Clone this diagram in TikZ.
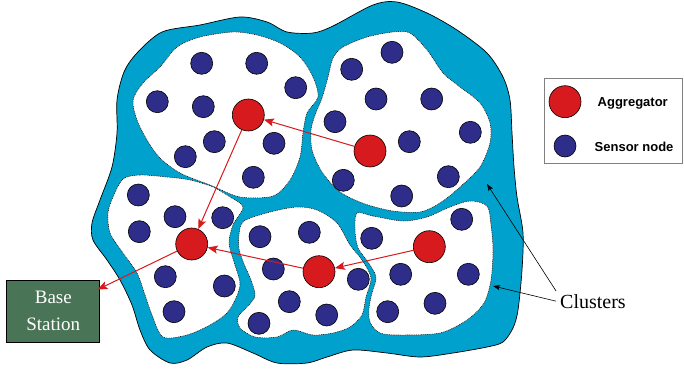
\documentclass[tikz,border=0pt]{standalone}
\usepackage{fontspec}
\setmainfont{Liberation Serif}
\setsansfont{Liberation Sans}
\usepackage{tikz}
\usetikzlibrary{arrows.meta}

\definecolor{fieldblue}{RGB}{0,161,204}
\definecolor{sensorblue}{RGB}{46,46,138}
\definecolor{aggred}{RGB}{214,26,30}
\definecolor{stationgreen}{RGB}{74,116,86}

\begin{document}
\begin{tikzpicture}[x=1pt, y=-1pt,
    field/.style={draw=black, line width=0.7pt, fill=fieldblue},
    cluster/.style={draw=black, line width=0.5pt, dash pattern=on 1pt off 0.8pt, fill=white},
    sensor/.style={circle, draw, line width=0.6pt, fill=sensorblue, minimum size=22pt, inner sep=0pt},
    aggregator/.style={circle, draw, line width=0.6pt, fill=aggred, minimum size=32pt, inner sep=0pt},
    route/.style={draw=aggred, line width=1pt, -{Stealth[length=10pt, width=8pt, inset=2pt]}},
    pointer/.style={draw=black, line width=0.6pt, -{Stealth[length=7pt, width=5pt, inset=1.5pt]}},
    legendtext/.style={anchor=base west, inner sep=0pt, font=\sffamily\bfseries\fontsize{13}{15}\selectfont}]
                    \useasboundingbox (0,0) rectangle (684,369);
                    % Field and clusters
                    \draw[field] plot[smooth cycle] coordinates {(117,100) (124,72) (137,53) (162,32) (200,25) (240,17) (267,22) (287,32) (313,33) (333,26) (373,5) (397,2) (427,13) (457,30) (487,53) (503,77) (510,100) (512,133) (514,167) (517,197) (523,233) (522,270) (518,310) (513,328) (503,342) (487,347) (453,353) (420,357) (387,353) (353,350) (327,357) (307,363) (277,363) (253,353) (227,343) (207,347) (187,360) (170,363) (150,350) (140,330) (132,305) (120,280) (107,260) (93,240) (92,223) (100,200) (112,167) (117,133)};
                    \draw[cluster] plot[smooth cycle] coordinates {(133,100) (143,83) (160,67) (177,47) (200,37) (233,32) (257,35) (280,43) (300,57) (313,77) (318,97) (307,113) (303,133) (300,157) (290,180) (273,196) (240,197) (210,185) (180,173) (160,158) (147,140) (137,120)};
                    \draw[cluster] plot[smooth cycle] coordinates {(333,58) (343,47) (367,37) (393,32) (410,33) (427,50) (443,73) (460,87) (480,103) (490,123) (490,143) (480,167) (460,187) (440,203) (420,212) (393,211) (365,204) (340,192) (322,172) (312,150) (311,130) (315,115) (322,98) (328,77)};
                    \draw[cluster] plot[smooth cycle] coordinates {(123,179) (140,175) (167,177) (190,180) (213,187) (230,197) (243,207) (233,225) (229,243) (234,262) (240,283) (236,298) (227,313) (210,325) (187,335) (163,337) (152,315) (145,295) (137,273) (123,253) (110,233) (108,213) (113,197)};
                    \draw[cluster] plot[smooth cycle] coordinates {(244,221) (270,212) (297,207) (317,210) (337,223) (350,245) (362,260) (371,278) (366,297) (362,315) (350,327) (333,333) (313,335) (293,330) (277,337) (255,337) (240,328) (238,317) (247,307) (255,296) (251,280) (244,264) (239,249) (239,234)};
                    \draw[cluster] plot[smooth cycle] coordinates {(357,213) (373,216) (403,221) (427,217) (450,207) (470,201) (487,206) (491,225) (493,250) (491,280) (484,303) (467,320) (440,333) (400,335) (380,333) (370,322) (369,308) (372,293) (376,277) (368,262) (358,248) (355,230)};
                    % Nodes
                    \node[sensor] (s1) at (201.7,63.3) {};
                    \node[sensor] (s2) at (256.7,63.3) {};
                    \node[sensor] (s3) at (295.7,87.7) {};
                    \node[sensor] (s4) at (157.3,101.7) {};
                    \node[sensor] (s5) at (203.3,106.7) {};
                    \node[sensor] (s6) at (214.3,141.7) {};
                    \node[sensor] (s7) at (274,143.3) {};
                    \node[sensor] (s8) at (185.3,156.7) {};
                    \node[sensor] (s9) at (253.3,177.3) {};
                    \node[sensor] (s10) at (392,52.3) {};
                    \node[sensor] (s11) at (351.7,69.3) {};
                    \node[sensor] (s12) at (376,99) {};
                    \node[sensor] (s13) at (431.7,99) {};
                    \node[sensor] (s14) at (335,121.7) {};
                    \node[sensor] (s15) at (409.3,141.7) {};
                    \node[sensor] (s16) at (470.3,132.3) {};
                    \node[sensor] (s17) at (343.3,180.3) {};
                    \node[sensor] (s18) at (448.3,176.7) {};
                    \node[sensor] (s19) at (401.7,196) {};
                    \node[sensor] (s20) at (138.3,195) {};
                    \node[sensor] (s21) at (175,216.7) {};
                    \node[sensor] (s22) at (222.7,217.7) {};
                    \node[sensor] (s23) at (139.3,231.7) {};
                    \node[sensor] (s24) at (165.3,276.7) {};
                    \node[sensor] (s25) at (224.3,286) {};
                    \node[sensor] (s26) at (174,311.7) {};
                    \node[sensor] (s27) at (260,236.7) {};
                    \node[sensor] (s28) at (309.3,232.3) {};
                    \node[sensor] (s29) at (273.3,269) {};
                    \node[sensor] (s30) at (358.3,279.3) {};
                    \node[sensor] (s31) at (289.3,301.7) {};
                    \node[sensor] (s32) at (326.7,315) {};
                    \node[sensor] (s33) at (259,323.3) {};
                    \node[sensor] (s34) at (461.7,219.3) {};
                    \node[sensor] (s35) at (371.7,238.3) {};
                    \node[sensor] (s36) at (400.7,274.3) {};
                    \node[sensor] (s37) at (468.3,274.3) {};
                    \node[sensor] (s38) at (435,303.3) {};
                    \node[sensor] (s39) at (387.7,311.7) {};
                    \node[aggregator] (a1) at (248.3,115) {};
                    \node[aggregator] (a2) at (370,151) {};
                    \node[aggregator] (a3) at (191.7,244) {};
                    \node[aggregator] (a4) at (319,271.7) {};
                    \node[aggregator] (a5) at (429.3,246.7) {};
                    \node[draw, line width=0.8pt, fill=stationgreen, text=white, align=center,
                          minimum width=93pt, minimum height=62pt, inner sep=0pt,
                          font=\fontsize{19}{27}\selectfont] (bs) at (53.3,311) {Base\\Station};
                    \node[anchor=base west, inner xsep=4pt, inner ysep=3pt,
                          font=\fontsize{20}{24}\selectfont] (clusters) at (556,308) {Clusters};
                    \coordinate (c2edge) at (487,184);
                    \coordinate (c5edge) at (493,286);
                    % Legend
                    \draw[gray, line width=0.8pt] (544,78) rectangle (682,163);
                    \node[aggregator] (legagg) at (565,101.7) {};
                    \node[sensor] (legsen) at (565,146) {};
                    \node[legendtext] (legaggtext) at (597.5,106.5) {Aggregator};
                    \node[legendtext] (legsentext) at (594.5,151) {Sensor node};
                    % Edges
                    \draw[route] (a2) -- (a1);
                    \draw[route] (a1) -- (a3);
                    \draw[route] (a5) -- (a4);
                    \draw[route] (a4) -- (a3);
                    \draw[route, shorten >=-3pt] (a3) -- (bs);
                    \draw[pointer] (clusters.north west) -- (c2edge);
                    \draw[pointer] (clusters.west) -- (c5edge);
                \end{tikzpicture}
\end{document}
